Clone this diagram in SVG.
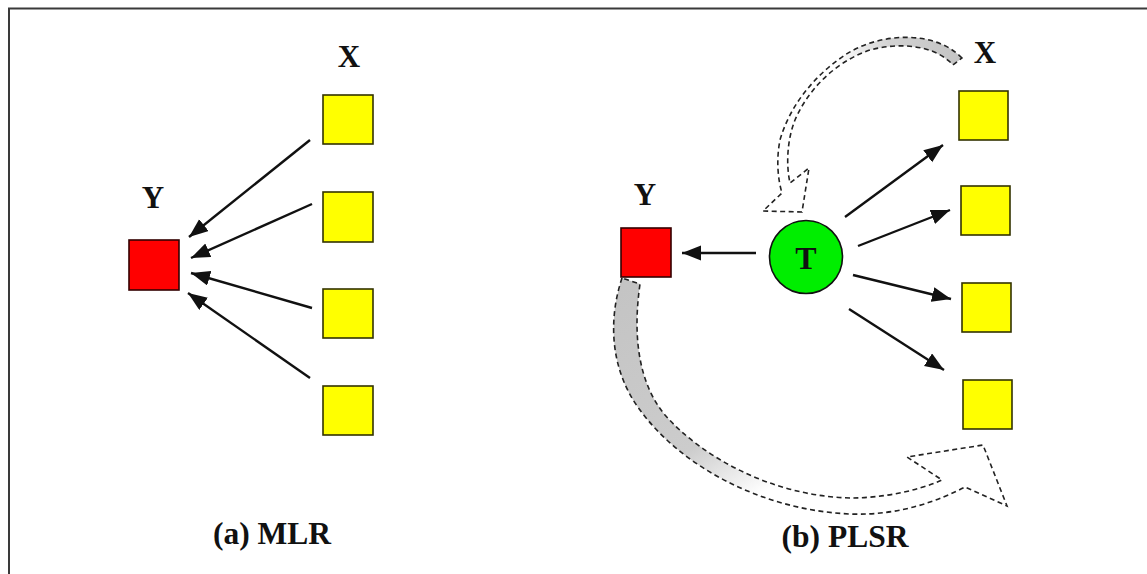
<svg xmlns="http://www.w3.org/2000/svg" width="1147" height="574" viewBox="0 0 1147 574">
  <defs>
    <style>
      .frame { stroke: #3a3a3a; stroke-width: 2; fill: none; }
      .var-x { fill: #ffff00; stroke: #333300; stroke-width: 1.6; }
      .var-y { fill: #ff0000; stroke: #330000; stroke-width: 1.6; }
      .latent { fill: #00ee00; stroke: #111; stroke-width: 1.6; }
      .lbl { font-family: "Liberation Serif", "Times New Roman", serif; font-weight: bold; fill: #111; text-anchor: middle; }
      .edge { stroke: #111; stroke-width: 2.4; fill: none; marker-end: url(#head); }
      .flow { stroke: #222; stroke-width: 1.6; stroke-dasharray: 5 3.5; stroke-linejoin: miter; }
    </style>
    <marker id="head" markerUnits="userSpaceOnUse" markerWidth="22" markerHeight="16" refX="19" refY="7.5" orient="auto">
      <path d="M0,0 L19,7.5 L0,15 z" fill="#111"/>
    </marker>
    <linearGradient id="fadeTop" gradientUnits="userSpaceOnUse" x1="960" y1="55" x2="835" y2="60">
      <stop offset="0" stop-color="#c4c4c4"/>
      <stop offset="0.55" stop-color="#d2d2d2"/>
      <stop offset="1" stop-color="#ffffff"/>
    </linearGradient>
    <linearGradient id="fadeBottom" gradientUnits="userSpaceOnUse" x1="628" y1="285" x2="750" y2="500">
      <stop offset="0" stop-color="#c4c4c4"/>
      <stop offset="0.7" stop-color="#cccccc"/>
      <stop offset="1" stop-color="#ffffff"/>
    </linearGradient>
  </defs>

  <rect width="1147" height="574" fill="#ffffff"/>
  <!-- page frame (open to the right and bottom) -->
  <path class="frame" d="M9,574 V8.5 H1147"/>

  <!-- panel (a): multiple linear regression -->
  <g id="a-y">
    <rect class="var-y" x="129" y="240" width="50" height="50"/>
    <text class="lbl" x="153" y="208" font-size="31">Y</text>
  </g>
  <g id="a-x-label"><text class="lbl" x="349" y="67" font-size="31">X</text></g>
  <g id="a-x1"><rect class="var-x" x="323" y="95" width="50" height="49"/></g>
  <g id="a-x2"><rect class="var-x" x="323" y="192" width="50" height="50"/></g>
  <g id="a-x3"><rect class="var-x" x="323" y="289" width="50" height="49"/></g>
  <g id="a-x4"><rect class="var-x" x="323" y="386" width="50" height="49"/></g>
  <g id="a-caption"><text class="lbl" x="272" y="544" font-size="31.5">(a) MLR</text></g>

  <!-- panel (b): partial least squares regression -->
  <g id="b-y">
    <rect class="var-y" x="621" y="228" width="50" height="49"/>
    <text class="lbl" x="645" y="205" font-size="31">Y</text>
  </g>
  <g id="b-t">
    <circle class="latent" cx="806" cy="257" r="36.5"/>
    <text class="lbl" x="806" y="269" font-size="32">T</text>
  </g>
  <g id="b-x-label"><text class="lbl" x="985" y="63" font-size="31">X</text></g>
  <g id="b-x1"><rect class="var-x" x="959" y="91" width="49" height="49"/></g>
  <g id="b-x2"><rect class="var-x" x="961" y="186" width="49" height="49"/></g>
  <g id="b-x3"><rect class="var-x" x="962" y="283" width="49" height="49"/></g>
  <g id="b-x4"><rect class="var-x" x="963" y="380" width="49" height="49"/></g>
  <g id="b-caption"><text class="lbl" x="845" y="547" font-size="31.5">(b) PLSR</text></g>

  <g id="connectors">
    <!-- (a) each X points at Y -->
    <line class="edge" x1="310" y1="140" x2="189" y2="237"/>
    <line class="edge" x1="312" y1="204" x2="191" y2="258"/>
    <line class="edge" x1="312" y1="308" x2="191" y2="273"/>
    <line class="edge" x1="310" y1="378" x2="188" y2="293"/>
    <!-- (b) T to Y and T to each X -->
    <line class="edge" x1="756" y1="253" x2="682" y2="253"/>
    <line class="edge" x1="845" y1="217" x2="943" y2="145"/>
    <line class="edge" x1="858" y1="246" x2="950" y2="210"/>
    <line class="edge" x1="853" y1="275" x2="951" y2="299"/>
    <line class="edge" x1="849" y1="309" x2="944" y2="370"/>
    <!-- (b) curved block arrows: X to T, Y to X -->
    <path class="flow" fill="url(#fadeTop)" d="M962,58 C935,30 880,32 845,55 C815,75 790,105 780,140 C776,160 778,180 782,193 L763,211 L802,212 L809,168 L790,183 C786,165 787,140 795,120 C810,85 840,60 870,50 C900,42 935,45 953,65 Z"/>
    <path class="flow" fill="url(#fadeBottom)" d="M622,278 C608,320 610,370 640,410 C680,465 760,510 850,514 C900,516 940,500 965,487 L1007,506 L983,445 L907,457 L942,480 C915,492 880,498 850,498 C770,496 700,455 665,415 C640,385 632,340 640,284 Z"/>
  </g>
</svg>
